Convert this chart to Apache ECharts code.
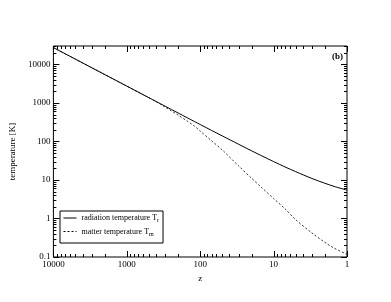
<!DOCTYPE html>
<html><head><meta charset="utf-8">
<script src="https://cdn.jsdelivr.net/npm/echarts@6/dist/echarts.min.js"></script>
<style>html,body{margin:0;padding:0;background:#fff}#c{width:391px;height:302px}</style>
</head><body><div id="c"></div>
<script>
// redshift z
const zValues = [10000, 5000, 2000, 1000, 700, 500, 400, 300, 200, 150, 120, 100, 70, 50, 30, 20, 15, 10, 7, 5, 3, 2, 1.5, 1];
// radiation temperature T_r [K]
const radiationT = [27250, 13630, 5452, 2728, 1910, 1365, 1093, 820, 548, 411, 330, 275, 193, 139, 84.5, 57.2, 43.6, 30.0, 21.8, 16.4, 10.9, 8.2, 6.8, 5.45];
// matter temperature T_m [K]
const matterT = [27250, 13630, 5452, 2728, 1910, 1362, 1085, 780, 482, 337, 250, 186, 104, 60, 23.2, 11.1, 6.7, 3.3, 1.79, 0.93, 0.42, 0.24, 0.17, 0.117];
const xTickLabels = ['10000', '1000', '100', '10', '1'];
const yTickLabels = ['0.1', '1', '10', '100', '1000', '10000'];

const FONT = 'Liberation Serif';
const xMajors = xTickLabels.map(Number);
const yMajors = yTickLabels.map(Number);
const tickData = [];
xMajors.forEach(v => tickData.push([v, 1, 1, 0]));
for (let k = 0; k < 4; k++) for (let m = 2; m <= 9; m++) tickData.push([m * Math.pow(10, k), 1, 0, 0]);
yMajors.forEach(v => tickData.push([1, v, 1, 1]));
for (let k = -1; k < 5; k++) for (let m = 2; m <= 9; m++) {
  const v = m * Math.pow(10, k);
  if (v <= 30000) tickData.push([1, v, 0, 1]);
}

const chart = echarts.init(document.getElementById('c'));
chart.setOption({
  animation: false,
  backgroundColor: '#fff',
  grid: { left: 46, right: 44, top: 46, bottom: 45, show: true, borderColor: '#000', borderWidth: 1 },
  xAxis: {
    type: 'log', logBase: 10, min: 1, max: 10000, inverse: true,
    name: 'z', nameLocation: 'middle', nameGap: 14,
    nameTextStyle: { fontFamily: FONT, fontSize: 9, color: '#000' },
    axisLine: { show: false }, axisTick: { show: false }, splitLine: { show: false },
    axisLabel: { fontFamily: FONT, fontSize: 9, color: '#000', margin: 3,
      formatter: v => { const s = xTickLabels.find(t => Math.abs(Number(t) - v) / v < 1e-6); return s || ''; } }
  },
  yAxis: {
    type: 'log', logBase: 10, min: 0.1, max: 30000,
    name: 'temperature [K]', nameLocation: 'middle', nameGap: 27,
    nameTextStyle: { fontFamily: FONT, fontSize: 9, color: '#000' },
    axisLine: { show: false }, axisTick: { show: false }, splitLine: { show: false },
    axisLabel: { fontFamily: FONT, fontSize: 9, color: '#000', margin: 3,
      formatter: v => { const s = yTickLabels.find(t => Math.abs(Number(t) - v) / v < 1e-6); return s || ''; } }
  },
  legend: {
    left: 60, top: 211, orient: 'vertical', itemWidth: 13, itemHeight: 8, itemGap: 4,
    padding: [3, 4, 6, 3], borderColor: '#000', borderWidth: 1, borderRadius: 0,
    itemStyle: { opacity: 0 },
    lineStyle: { width: 1 },
    data: ['radiation', 'matter'],
    formatter: n => n === 'radiation' ? '{a|radiation temperature T}{s|r}' : '{a|matter temperature T}{s|m}',
    textStyle: { fontFamily: FONT, fontSize: 8, color: '#000',
      rich: { a: { fontFamily: FONT, fontSize: 8, color: '#000' },
              s: { fontFamily: FONT, fontSize: 6, color: '#000', padding: [5, 0, 0, 0] } } }
  },
  graphic: [{ type: 'text', right: 48, top: 52, style: { text: '(b)', font: 'bold 9px "Liberation Serif"', fill: '#000' } }],
  series: [
    { name: 'radiation', type: 'line', data: zValues.map((z, i) => [z, radiationT[i]]), showSymbol: false, symbol: 'none', smooth: 0.3,
      lineStyle: { color: '#000', width: 1 }, itemStyle: { color: '#000' } },
    { name: 'matter', type: 'line', data: zValues.map((z, i) => [z, matterT[i]]), showSymbol: false, symbol: 'none', smooth: 0.3,
      lineStyle: { color: '#000', width: 0.8, type: [2, 2] }, itemStyle: { color: '#000' } },
    { type: 'custom', silent: true, data: tickData, encode: { x: 0, y: 1 }, clip: false,
      renderItem: (params, api) => {
        const cs = params.coordSys;
        const major = api.value(2) === 1;
        const isY = api.value(3) === 1;
        const len = major ? 6 : 3;
        const p = api.coord([api.value(0), api.value(1)]);
        const st = { stroke: '#000', lineWidth: 1 };
        if (!isY) {
          const x = Math.round(p[0]) + 0.5;
          return { type: 'group', children: [
            { type: 'line', shape: { x1: x, y1: cs.y + cs.height, x2: x, y2: cs.y + cs.height - len }, style: st },
            { type: 'line', shape: { x1: x, y1: cs.y, x2: x, y2: cs.y + len }, style: st } ] };
        } else {
          const y = Math.round(p[1]) + 0.5;
          return { type: 'group', children: [
            { type: 'line', shape: { x1: cs.x, y1: y, x2: cs.x + len, y2: y }, style: st },
            { type: 'line', shape: { x1: cs.x + cs.width, y1: y, x2: cs.x + cs.width - len, y2: y }, style: st } ] };
        }
      } }
  ]
});
</script></body></html>
